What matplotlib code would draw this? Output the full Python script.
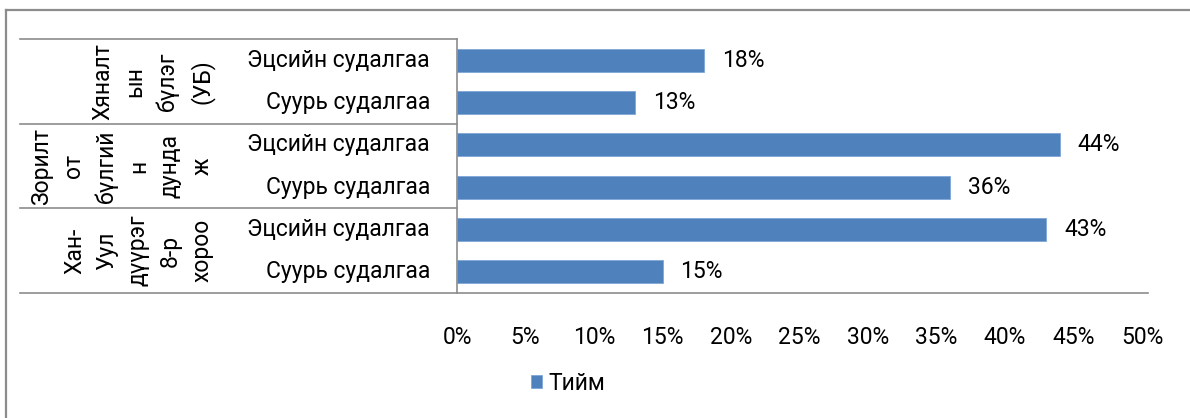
import matplotlib.pyplot as plt
import matplotlib.transforms as mtransforms
from matplotlib.lines import Line2D

plt.rcParams['font.family'] = ['Roboto', 'DejaVu Sans']

# Бүлгүүд ба судалгааны үе шат
groups = ['Хяналт\nын\nбүлэг\n(УБ)',
          'Зорилт\nот\nбүлгий\nн\nдунда\nж',
          'Хан-\nУул\nдүүрэг\n8-р\nхороо']
stages = ['Эцсийн судалгаа', 'Суурь судалгаа']
values = [18, 13, 44, 36, 43, 15]  # Тийм, %
series_name = 'Тийм'
xticks = [0, 5, 10, 15, 20, 25, 30, 35, 40, 45, 50]

FS = 16.5
W, H = 1190, 418
fig = plt.figure(figsize=(W / 100, H / 100), dpi=100)
ax = fig.add_axes([457 / W, 1 - 293 / H, (1142 - 457) / W, (293 - 39) / H])

ypos = list(range(len(values)))
bars = ax.barh(ypos, values, height=0.55, color='#4F81BD', edgecolor='#7FA6D6',
               linewidth=0.6, label=series_name)
ax.set_ylim(len(values) - 0.5, -0.5)
ax.set_xlim(0, 50)

for b, v in zip(bars, values):
    ax.annotate(f'{v}%', (b.get_width(), b.get_y() + b.get_height() / 2),
                xytext=(18, 0), textcoords='offset pixels', va='center', ha='left',
                fontsize=FS, color='black')

ax.set_xticks(xticks)
ax.set_xticklabels([f'{t}%' for t in xticks], fontsize=FS)
ax.tick_params(axis='x', length=0, pad=24)
ax.set_yticks([])
for s in ['top', 'right', 'bottom']:
    ax.spines[s].set_visible(False)
ax.spines['left'].set_color('#8c8c8c')
ax.spines['left'].set_linewidth(1.2)

# шошгоны хэсгийн хил зураас
grid_col = '#8c8c8c'
blend = mtransforms.blended_transform_factory(fig.transFigure, ax.transData)
n_per = len(stages)
bounds = [-0.5 + i * n_per for i in range(len(groups) + 1)]
for i, yb in enumerate(bounds):
    x_end = 1148 / W if i == len(groups) else 457 / W
    fig.add_artist(Line2D([20 / W, x_end], [yb, yb], transform=blend,
                          color=grid_col, lw=1.2))

# дэд ангиллын шошго
for i in range(len(values)):
    ax.text(430 / W, i, stages[i % n_per], transform=blend, ha='right',
            va='center', fontsize=FS)

# бүлгийн шошго (босоо)
for g, name in enumerate(groups):
    yc = g * n_per + (n_per - 1) / 2
    ax.text(214 / W, yc, name, transform=blend, rotation=90, ha='right',
            va='center', multialignment='center', fontsize=FS, linespacing=1.5)

# гадна хүрээ
fig.add_artist(Line2D([6 / W, 6 / W], [0, 1 - 10 / H], transform=fig.transFigure,
                      color=grid_col, lw=1.6))
fig.add_artist(Line2D([6 / W, 1], [1 - 10 / H, 1 - 10 / H], transform=fig.transFigure,
                      color=grid_col, lw=1.6))

fig.legend(loc='center', bbox_to_anchor=(568 / W, 1 - 383 / H), frameon=False,
           fontsize=FS, handlelength=0.5, handleheight=0.5, handletextpad=0.25)

fig.savefig('out.png', dpi=100)
